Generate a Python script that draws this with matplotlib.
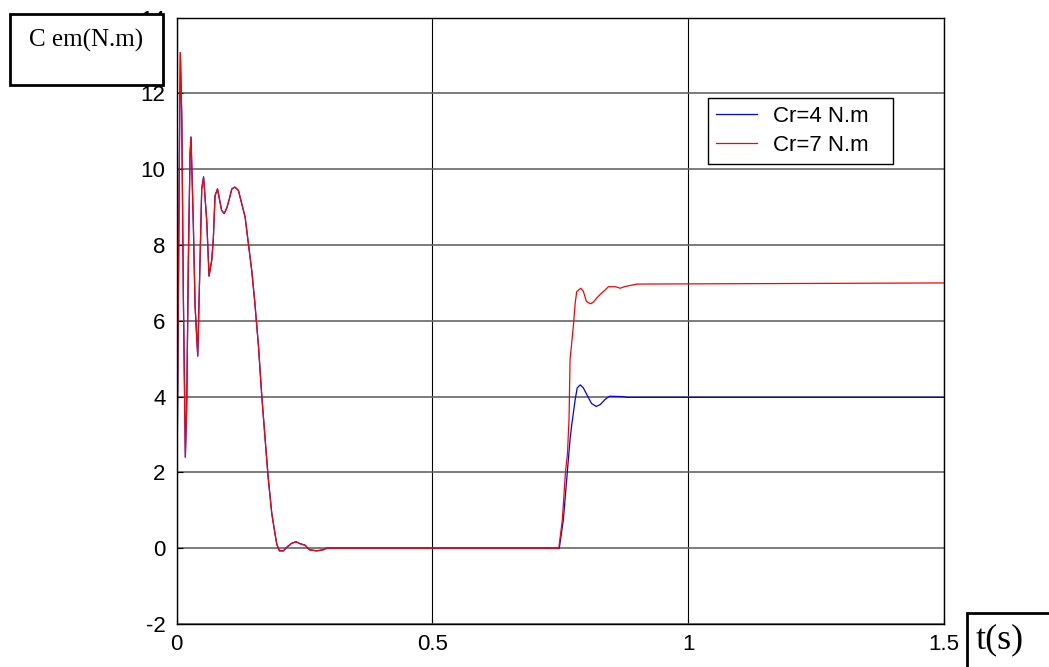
import numpy as np
import matplotlib
matplotlib.use("Agg")
from matplotlib import pyplot as plt
from matplotlib.patches import Rectangle

plt.rcParams["axes.unicode_minus"] = False

# start-up transient (same for both loads)
t_start = [0.0, 0.0043, 0.0059, 0.0074, 0.0102, 0.0133, 0.0172, 0.0199, 0.0231, 0.0264,
	0.0283, 0.0328, 0.0362, 0.0414, 0.0459, 0.0492, 0.0528, 0.059, 0.0635, 0.0688,
	0.0719, 0.0752, 0.080, 0.088, 0.093, 0.098, 0.103, 0.108, 0.114, 0.121,
	0.127, 0.134, 0.140, 0.147, 0.153, 0.160, 0.1665, 0.173, 0.179, 0.186,
	0.1925, 0.196, 0.201, 0.209, 0.215, 0.225, 0.2335, 0.241, 0.251, 0.2595,
	0.274, 0.287, 0.2935, 0.50, 0.70]
c_start = [0.0, 8.0, 11.0, 13.08, 11.4, 6.66, 2.4, 3.8, 7.6, 10.4,
	10.85, 8.55, 6.4, 5.07, 7.6, 9.48, 9.8, 8.64, 7.18, 7.6,
	8.17, 9.3, 9.48, 8.92, 8.83, 8.97, 9.21, 9.48, 9.53, 9.44,
	9.11, 8.74, 8.08, 7.32, 6.48, 5.35, 4.03, 2.9, 1.87, 0.93,
	0.37, 0.1, -0.07, -0.07, 0.02, 0.13, 0.17, 0.12, 0.08, -0.04,
	-0.07, -0.04, 0.0, 0.0, 0.0]

# load step, Cr = 4 N.m
t_cr4 = [0.748, 0.756, 0.7636, 0.769, 0.772, 0.779, 0.783, 0.789, 0.795, 0.805,
	0.811, 0.820, 0.828, 0.837, 0.846, 0.873, 0.88, 1.5]
c_cr4 = [0.0, 0.76, 2.0, 2.87, 3.22, 3.92, 4.23, 4.31, 4.23, 3.97,
	3.82, 3.74, 3.79, 3.92, 4.01, 4.0, 3.98, 3.98]

# load step, Cr = 7 N.m
t_cr7 = [0.747, 0.754, 0.760, 0.764, 0.767, 0.769, 0.776, 0.779, 0.782, 0.790,
	0.795, 0.801, 0.809, 0.815, 0.821, 0.828, 0.834, 0.844, 0.858, 0.867,
	0.875, 0.9, 1.5]
c_cr7 = [0.0, 0.76, 2.0, 2.5, 3.4, 4.97, 5.94, 6.46, 6.77, 6.86,
	6.78, 6.51, 6.45, 6.5, 6.6, 6.7, 6.77, 6.9, 6.9, 6.86,
	6.9, 6.97, 7.0]

x_ticks = [0, 0.5, 1, 1.5]
x_ticklabels = ["0", "0.5", "1", "1.5"]
y_ticks = [-2, 0, 2, 4, 6, 8, 10, 12, 14]

fig = plt.figure(figsize=(10.49, 6.67), dpi=100)
ax = fig.add_axes([0.1683, 0.0645, 0.7317, 0.909])

t4 = np.array(t_start + t_cr4)
c4 = np.array(c_start + c_cr4)
t7 = np.array(t_start + t_cr7)
c7 = np.array(c_start + c_cr7)
ax.plot(t4, c4, color="#0000ff", lw=0.9, label="Cr=4 N.m")
ax.plot(t7, c7, color="#ff0000", lw=0.9, label="Cr=7 N.m")

ax.set_xlim(0, 1.5)
ax.set_ylim(-2, 14)
ax.set_xticks(x_ticks)
ax.set_xticklabels(x_ticklabels)
ax.set_yticks(y_ticks)
for lbl in ax.get_xticklabels() + ax.get_yticklabels():
	lbl.set_family("Liberation Sans")
	lbl.set_fontsize(16)
ax.tick_params(axis="x", direction="in", length=4, pad=7)
ax.tick_params(axis="y", direction="in", length=4, pad=8)
ax.yaxis.grid(True, color="0.4", lw=1.2)
ax.xaxis.grid(True, color="black", lw=0.8)
ax.set_axisbelow(True)
for sp in ax.spines.values():
	sp.set_color("black")
	sp.set_linewidth(1.0)

# legend box stretched to the width it has in the figure
leg_x0 = (708 - 176.5) / 767.5
leg_w = (893 - 708) / 767.5
leg = ax.legend(loc="upper left", bbox_to_anchor=(leg_x0, 0.867, leg_w, 0), mode="expand",
	borderaxespad=0, fancybox=False, edgecolor="black", framealpha=1,
	prop={"family": "Liberation Sans", "size": 16},
	handlelength=1.85, handletextpad=0.7, borderpad=0.35, labelspacing=0.35)
leg.get_frame().set_linewidth(1.0)

# label boxes
fig.add_artist(Rectangle((10 / 1049, 1 - 85 / 667), 153 / 1049, 71 / 667,
	transform=fig.transFigure, facecolor="white", edgecolor="black", lw=2, zorder=5))
fig.text(86 / 1049, 1 - 40 / 667, "C em(N.m)", family="Liberation Serif", fontsize=18,
	ha="center", va="center", zorder=6)
fig.add_artist(Rectangle((967 / 1049, -0.01), 0.1, (667 - 613) / 667 + 0.01,
	transform=fig.transFigure, facecolor="white", edgecolor="black", lw=2, zorder=5))
fig.text(1000 / 1049, 1 - 640 / 667, "t(s)", family="Liberation Serif", fontsize=26,
	ha="center", va="center", zorder=6)

fig.savefig("out.png", dpi=100)
